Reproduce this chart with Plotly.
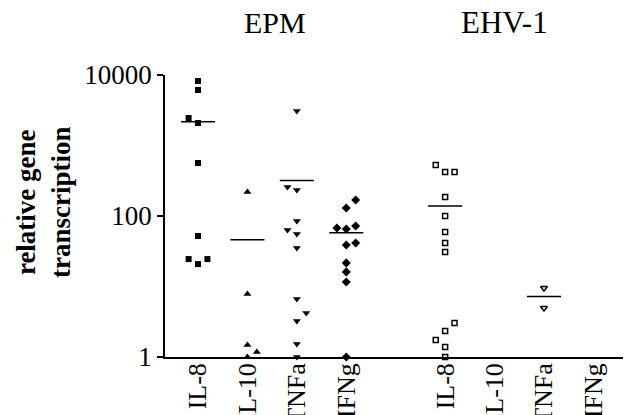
import plotly.graph_objects as go
import numpy as np

# ---- data ----
tick_labels = ["IL-8", "IL-10", "TNFa", "IFNg", "", "IL-8", "IL-10", "TNFa", "IFNg"]
group_titles = ["EPM", "EHV-1"]

epm_il8 = [8220, 6120, 2455, 2085, 565, 52, 24.5, 20.8, 24.5]
epm_il8_slot = [0, 0, -1, 0, 0, 0, -1, 0, 1]

epm_il10 = [219, 7.8, 1.48, 1.18, 1]
epm_il10_slot = [0, 0, 0, 1, 0]

epm_tnfa = [3085, 258, 234, 85, 63.3, 55.6, 35.1, 6.65, 4.21, 3.24, 1.53, 1]
epm_tnfa_slot = [0, -1, 0, 0, -1, 0, 0, 0, 1, 0, 0, 0]

epm_ifng = [169, 130, 72.1, 67.6, 65.4, 41.4, 38.8, 21.6, 16.1, 11.6, 1]
epm_ifng_slot = [1, 0, 1, -1, 0, 1, 0, 0, 0, 0, 0]

ehv_il8 = [529, 421, 421, 186, 100, 59.3, 41.4, 30.9, 3.03, 2.34, 1.74, 1.39, 1]
ehv_il8_slot = [-1, 0, 1, 0, 0, 0, 0, 0, 1, 0, -1, 0, 0]

ehv_tnfa = [9.5, 4.95]
ehv_tnfa_slot = [0, 0]

series = [
    (0, epm_il8, epm_il8_slot, "square", 6),
    (1, epm_il10, epm_il10_slot, "triangle-up", 7),
    (2, epm_tnfa, epm_tnfa_slot, "triangle-down", 7),
    (3, epm_ifng, epm_ifng_slot, "diamond", 7),
    (5, ehv_il8, ehv_il8_slot, "square-open", 5),
    (7, ehv_tnfa, ehv_tnfa_slot, "triangle-down-open", 6),
]

SLOT_W = 0.19
HALF = 0.345
FONT = "Liberation Serif, Times New Roman, serif"

fig = go.Figure()
for pos, vals, slots, sym, size in series:
    xs = [pos + s * SLOT_W for s in slots]
    fig.add_trace(go.Scatter(
        x=xs, y=vals, mode="markers", cliponaxis=False,
        marker=dict(symbol=sym, size=size, color="black",
                    line=dict(color="black", width=1.5 if "open" in sym else 0)),
        showlegend=False, hoverinfo="y"))
    m = float(np.mean(vals))
    fig.add_trace(go.Scatter(
        x=[pos - HALF, pos + HALF], y=[m, m], mode="lines",
        line=dict(color="black", width=1.5), showlegend=False, hoverinfo="skip"))

OFF = 8  # page body margin
W, H = 631 - OFF, 415 - OFF
L, R, T = 165 - OFF, 3, 75 - OFF
ph = 282
B = H - T - ph
pw = W - L - R

def px2paper_x(px):
    return (px - OFF - L) / pw

def px2paper_y(py):
    return (T + ph - (py - OFF)) / ph

fig.update_layout(
    width=W, height=H,
    margin=dict(l=L, r=R, t=T, b=B, autoexpand=False),
    paper_bgcolor="white", plot_bgcolor="white",
    font=dict(family=FONT, color="black", size=24),
    xaxis=dict(
        range=[-0.668, 8.70], tickmode="array", tickvals=list(range(len(tick_labels))),
        ticktext=tick_labels, tickangle=-90, ticks="", showgrid=False, zeroline=False,
        showline=True, linecolor="black", linewidth=1.5,
        tickfont=dict(family=FONT, size=26, color="black"), automargin=False,
        ticklabelstandoff=-6,
    ),
    yaxis=dict(
        type="log", range=[0, 4], tickmode="array", tickvals=[1, 100, 10000],
        ticktext=["1", "100", "10000"], ticks="outside", ticklen=6, tickwidth=1.5,
        tickcolor="black", showgrid=False, zeroline=False, showline=True,
        linecolor="black", linewidth=1.5, automargin=False,
        tickfont=dict(family=FONT, size=27, color="black"),
    ),
    annotations=[
        dict(text=group_titles[0], x=px2paper_x(275), y=px2paper_y(23), xref="paper", yref="paper",
             showarrow=False, font=dict(family=FONT, size=30, color="black"),
             xanchor="center", yanchor="middle"),
        dict(text=group_titles[1], x=px2paper_x(504), y=px2paper_y(23), xref="paper", yref="paper",
             showarrow=False, font=dict(family=FONT, size=31, color="black"),
             xanchor="center", yanchor="middle"),
        dict(text="<b>relative gene<br>transcription</b>", x=px2paper_x(43), y=px2paper_y(202),
             xref="paper", yref="paper", showarrow=False, textangle=-90,
             font=dict(family=FONT, size=27, color="black"),
             xanchor="center", yanchor="middle"),
    ],
)

fig.write_html("out.html")
